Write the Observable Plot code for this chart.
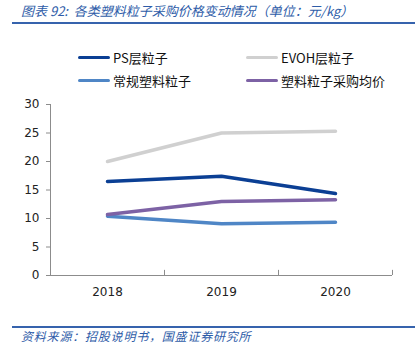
<!DOCTYPE html>
<html><head><meta charset="utf-8">
<script src="https://cdn.jsdelivr.net/npm/d3@7"></script>
<script src="https://cdn.jsdelivr.net/npm/@observablehq/plot@0.6"></script>
<style>
body{margin:0;background:#fff;}
#wrap{position:relative;width:415px;height:353px;overflow:hidden;font-family:"DejaVu Sans",sans-serif;background:#fff;}
.title{position:absolute;left:21px;top:1px;font-family:"Noto Sans CJK SC",sans-serif;font-style:italic;font-size:13px;color:#2e5ca8;white-space:nowrap;}
.rule{position:absolute;left:12px;width:403px;height:2px;background:#3663ad;}
.src{position:absolute;left:21px;top:327px;font-family:"Noto Sans CJK SC",sans-serif;font-style:italic;font-size:12px;color:#2e5ca8;letter-spacing:0.8px;white-space:nowrap;}
.leg{position:absolute;display:flex;align-items:center;font-family:"Noto Sans CJK SC",sans-serif;font-size:13px;color:#111;white-space:nowrap;}
.leg span.sw{display:inline-block;width:32px;height:3.5px;margin-right:3px;border-radius:2px;}
#plot{position:absolute;left:0;top:95px;}
</style></head>
<body><div id="wrap">
<div class="title">图表 92:&nbsp;&nbsp;各类塑料粒子采购价格变动情况（单位：元/kg）</div>
<div class="rule" style="top:22px"></div>
<div id="legend"></div>
<div id="plot"></div>
<div class="rule" style="top:326px"></div>
<div class="src">资料来源：招股说明书，国盛证券研究所</div>
</div>
<script>
const years = [2018, 2019, 2020];
const seriesNames = ["PS层粒子", "EVOH层粒子", "常规塑料粒子", "塑料粒子采购均价"];
const psValues = [16.5, 17.4, 14.4];
const evohValues = [20.0, 25.0, 25.3];
const regularValues = [10.4, 9.1, 9.35];
const avgValues = [10.7, 13.0, 13.3];
const seriesColors = ["#0b3f94", "#d0d0d0", "#4f86c6", "#7d62a5"];
const yTicks = [0, 5, 10, 15, 20, 25, 30];

const allValues = [psValues, evohValues, regularValues, avgValues];
const rows = [];
seriesNames.forEach((name, i) => {
  years.forEach((yr, j) => rows.push({series: name, year: yr, value: allValues[i][j]}));
});
const boundaries = [years[0] - 0.5, ...years.map(y => y + 0.5)];

// legend
const legendPos = [[78, 48], [246, 48], [78, 71], [246, 71]];
const legend = document.getElementById("legend");
seriesNames.forEach((name, i) => {
  const d = document.createElement("div");
  d.className = "leg";
  d.style.left = legendPos[i][0] + "px";
  d.style.top = legendPos[i][1] + "px";
  d.innerHTML = `<span class="sw" style="background:${seriesColors[i]}"></span>${name}`;
  legend.appendChild(d);
});

const chart = Plot.plot({
  width: 415,
  height: 215,
  marginLeft: 50,
  marginRight: 23,
  marginTop: 9,
  marginBottom: 35,
  style: {fontSize: "12px", fontFamily: "DejaVu Sans", color: "#222", background: "white"},
  x: {type: "linear", domain: [boundaries[0], boundaries[boundaries.length - 1]]},
  y: {domain: [0, 30]},
  color: {domain: seriesNames, range: seriesColors},
  marks: [
    Plot.ruleX([boundaries[0]], {stroke: "#8c8c8c"}),
    Plot.ruleY([0], {stroke: "#8c8c8c"}),
    Plot.ruleX(boundaries, {x: d => d, y1: 0, y2: 0.9, stroke: "#8c8c8c"}),
    Plot.axisY({ticks: yTicks, tickSize: 4, tickPadding: 7, stroke: "#8c8c8c", label: null, fill: "#222"}),
    Plot.axisX({ticks: years, tickSize: 0, tickPadding: 12, tickFormat: d => String(d), label: null, fill: "#222"}),
    Plot.line(rows, {x: "year", y: "value", z: "series", stroke: "series", strokeWidth: 3.5})
  ]
});
document.getElementById("plot").appendChild(chart);
</script>
</body></html>
